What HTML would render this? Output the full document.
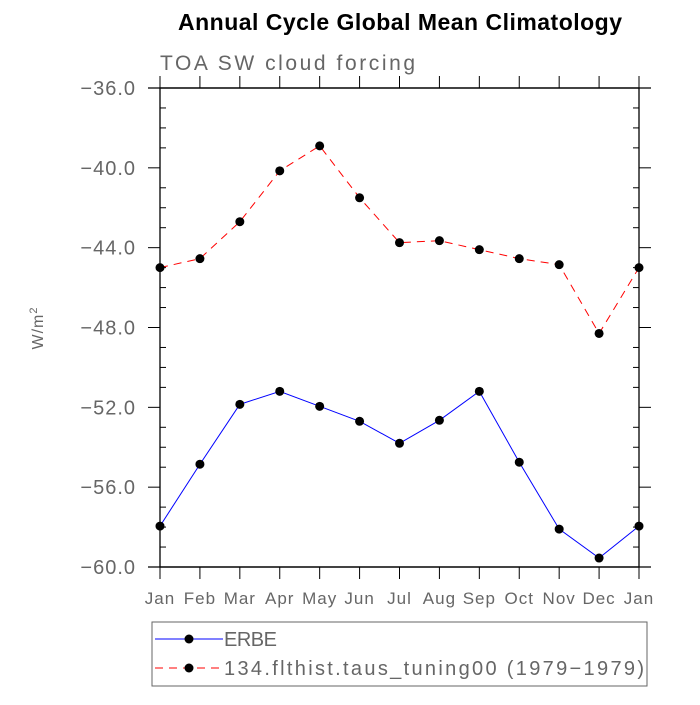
<!DOCTYPE html>
<html><head><meta charset="utf-8"><style>
body{margin:0;background:#fff}
svg text{font-family:"Liberation Sans",sans-serif}
</style></head><body>
<svg width="700" height="700">
<text x="400" y="30" text-anchor="middle" font-size="23" font-weight="bold" textLength="444">Annual Cycle Global Mean Climatology</text>
<text x="160" y="70" font-size="21" fill="#666" textLength="255">TOA SW cloud forcing</text>
<text transform="translate(43,328) rotate(-90)" text-anchor="middle" font-size="16" fill="#666" letter-spacing="1">W/m<tspan baseline-shift="super" font-size="11">2</tspan></text>
<g id="axes"></g>
<g id="series"></g>
<g>
<rect x="152" y="622" width="495" height="64" fill="none" stroke="#666"/>
<line x1="155" y1="639" x2="223" y2="639" stroke="#00f" stroke-width="1"/>
<circle cx="189" cy="639" r="4.5"/>
<text x="224" y="646" font-size="20" fill="#666" textLength="53">ERBE</text>
<line x1="155" y1="668" x2="223" y2="668" stroke="#f00" stroke-dasharray="8,6"/>
<circle cx="189" cy="668" r="4.5"/>
<text x="224" y="675" font-size="20" fill="#666" textLength="420">134.flthist.taus_tuning00 (1979−1979)</text>
</g>
</svg>
<script>
const months=["Jan","Feb","Mar","Apr","May","Jun","Jul","Aug","Sep","Oct","Nov","Dec","Jan"];
const yTicks=[-36,-40,-44,-48,-52,-56,-60];
const yLabels=["−36.0","−40.0","−44.0","−48.0","−52.0","−56.0","−60.0"];
const erbe=[-57.95,-54.85,-51.85,-51.2,-51.95,-52.7,-53.8,-52.65,-51.2,-54.75,-58.1,-59.55,-57.95];
const model=[-45.0,-44.55,-42.7,-40.15,-38.9,-41.5,-43.75,-43.65,-44.1,-44.55,-44.85,-48.3,-45.0];
const X0=160,X1=639,Y0=88,Y1=567,ymin=-60,ymax=-36;
const sx=i=>X0+(X1-X0)*i/(months.length-1);
const sy=v=>Y1-(v-ymin)/(ymax-ymin)*(Y1-Y0);
const NS="http://www.w3.org/2000/svg";
function mk(tag,attrs,parent){const e=document.createElementNS(NS,tag);for(const k in attrs)e.setAttribute(k,attrs[k]);parent.appendChild(e);return e;}
const ax=document.getElementById('axes');
const frame=mk('rect',{x:X0,y:Y0,width:X1-X0,height:Y1-Y0,fill:'none',stroke:'#000','stroke-width':1.3},ax);


mk('line',{x1:148,y1:Y0,x2:651,y2:Y0,stroke:'#000','stroke-width':1.3},ax);
mk('line',{x1:148,y1:Y1,x2:651,y2:Y1,stroke:'#000','stroke-width':1.3},ax);
months.forEach((m,i)=>{const x=sx(i);
mk('line',{x1:x,y1:Y1,x2:x,y2:Y1+12,stroke:'#000'},ax);
mk('line',{x1:x,y1:Y0,x2:x,y2:Y0-12,stroke:'#000'},ax);
const t=mk('text',{x:x,y:604,'text-anchor':'middle','font-size':17,fill:'#666','letter-spacing':1},ax);t.textContent=m;


});
for(let v=ymin;v<=ymax;v++){const y=sy(v);
if(v%4===0){mk('line',{x1:148,y1:y,x2:X0,y2:y,stroke:'#000'},ax);mk('line',{x1:X1,y1:y,x2:651,y2:y,stroke:'#000'},ax);}
else{mk('line',{x1:X0,y1:y,x2:X0+6,y2:y,stroke:'#000'},ax);mk('line',{x1:X1-6,y1:y,x2:X1,y2:y,stroke:'#000'},ax);}}
yTicks.forEach((v,i)=>{const t=mk('text',{x:136,y:sy(v)+7,'text-anchor':'end','font-size':20,fill:'#666','letter-spacing':1},ax);t.textContent=yLabels[i];


});
const sg=document.getElementById('series');
function draw(data,color,dash,name){
const p=mk('polyline',{points:data.map((v,i)=>sx(i)+','+sy(v)).join(' '),fill:'none',stroke:color,'stroke-width':1,'stroke-dasharray':dash},sg);


data.forEach((v,i)=>{const c=mk('circle',{cx:sx(i),cy:sy(v),r:4.5,fill:'#000'},sg);

});
}
draw(model,'#f00','8,6','model');
draw(erbe,'#00f','none','erbe');
</script>
</body></html>
